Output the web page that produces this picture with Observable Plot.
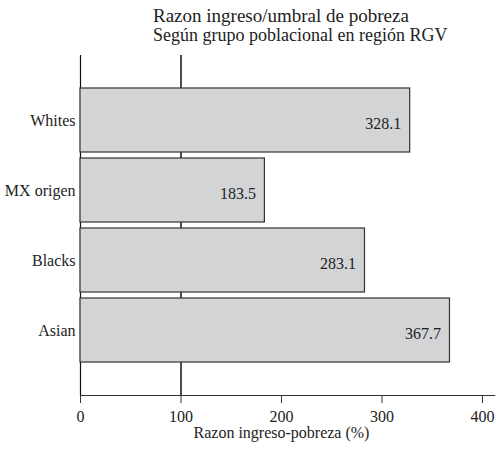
<!DOCTYPE html>
<html>
<head>
<meta charset="utf-8">
<script src="https://cdn.jsdelivr.net/npm/d3@7"></script>
<script src="https://cdn.jsdelivr.net/npm/@observablehq/plot@0.6"></script>
<style>
  html, body { margin: 0; padding: 0; background: #fff; }
  #wrap { position: relative; width: 498px; height: 450px; color: #222; font-family: "Liberation Serif", "Times New Roman", serif; }
  .title { position: absolute; left: 153px; white-space: nowrap; line-height: 1; }
  #chart { position: absolute; left: 0; top: 46px; }
</style>
</head>
<body>
<div id="wrap">
  <div class="title" id="t1" style="top:6px; font-size:19px;">Razon ingreso/umbral de pobreza</div>
  <div class="title" id="t2" style="top:26px; font-size:18px;">Según grupo poblacional en región RGV</div>
  <div id="chart"></div>
</div>
<script>
const groups = ["Whites", "MX origen", "Blacks", "Asian"];
const ratios = [328.1, 183.5, 283.1, 367.7];
const xTicks = [0, 100, 200, 300, 400];
const refLine = [100];
const xLabel = "Razon ingreso-pobreza (%)";

const data = groups.map((g, i) => ({group: g, value: ratios[i]}));

const plot = Plot.plot({
  width: 498,
  height: 404,
  marginTop: 9,
  marginBottom: 55,
  marginLeft: 80,
  marginRight: 4,
  style: {fontFamily: "'Liberation Serif', 'Times New Roman', serif", fontSize: "16px", color: "#222", background: "#fff"},
  x: {domain: [0, 412]},
  y: {domain: groups, paddingInner: 0.085, paddingOuter: 0.46},
  marks: [
    Plot.ruleX(refLine, {stroke: "#111", strokeWidth: 1.5}),
    Plot.ruleX([0], {stroke: "#111", strokeWidth: 1.2}),
    Plot.frame({anchor: "bottom", stroke: "#333", strokeWidth: 1.2}),
    Plot.barX(data, {y: "group", x: "value", fill: "#d3d4d6", stroke: "#333", strokeWidth: 1.2}),
    Plot.text(data, {y: "group", x: "value", text: d => d.value.toFixed(1), textAnchor: "end", dx: -9, dy: 3, fill: "#222", fontSize: 16}),
    Plot.axisX({ticks: xTicks, tickSize: 8, tickPadding: 7, tickFormat: d => String(d), label: null, stroke: "#333"}),
    Plot.axisY({tickSize: 0, tickPadding: 5, label: null}),
    Plot.text([{x: 200, t: xLabel}], {x: "x", text: "t", frameAnchor: "bottom", lineAnchor: "top", dy: 31, fill: "#222", fontSize: 16})
  ]
});
document.getElementById("chart").appendChild(plot);
</script>
</body>
</html>
